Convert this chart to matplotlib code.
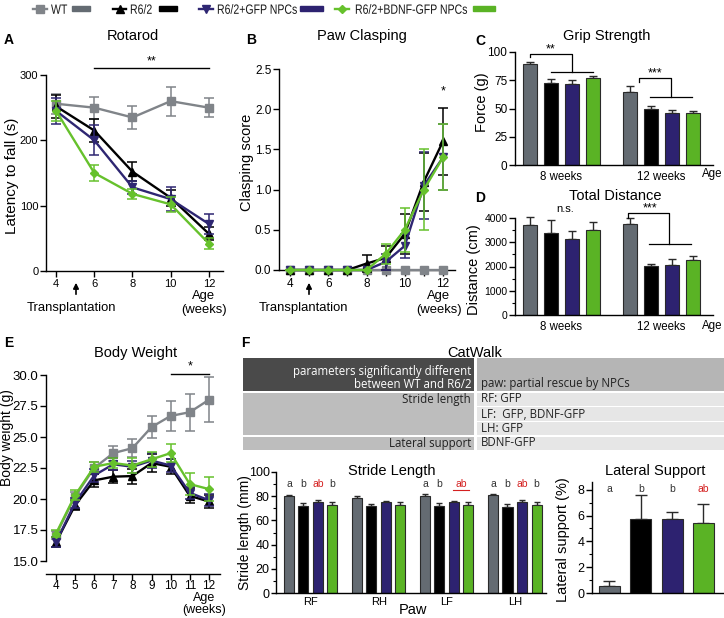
import numpy as np
import matplotlib
matplotlib.use('Agg')
import matplotlib.pyplot as plt
from matplotlib.patches import Rectangle, PathPatch
from matplotlib.ticker import MultipleLocator
from matplotlib.textpath import TextPath
from matplotlib.font_manager import FontProperties
from matplotlib.transforms import Affine2D

plt.rcParams['font.family'] = ['Liberation Sans', 'DejaVu Sans']

W, H = 724, 618

GROUPS = ['WT', 'R6/2', 'R6/2+GFP NPCs', 'R6/2+BDNF-GFP NPCs']
LINE_COLORS = ['#808489', '#000000', '#2e2672', '#66c12c']
BAR_COLORS = ['#646b72', '#000000', '#2d2270', '#5ab325']
MARKERS = ['s', '^', 'v', 'D']
MSIZES = [5.5, 5.5, 5.5, 4.5]

# A - rotarod
rot_weeks = [4, 6, 8, 10, 12]
rot_vals = [[256, 250, 235, 260, 250],
            [252, 215, 152, 112, 57],
            [245, 200, 128, 110, 72],
            [245, 150, 118, 102, 42]]
rot_errs = [[15, 17, 17, 22, 15],
            [18, 18, 15, 12, 10],
            [20, 23, 10, 18, 15],
            [15, 13, 8, 12, 8]]

# B - paw clasping
clasp_weeks = [4, 5, 6, 7, 8, 9, 10, 11, 12]
clasp_vals = [[0, 0, 0, 0, 0, 0, 0, 0, 0],
              [0, 0, 0, 0, 0.08, 0.15, 0.45, 1.1, 1.6],
              [0, 0, 0, 0, 0, 0.1, 0.3, 1.05, 1.4],
              [0, 0, 0, 0, 0, 0.2, 0.5, 1.0, 1.4]]
clasp_errs = [[0, 0, 0, 0, 0, 0, 0, 0, 0],
              [0, 0, 0, 0, 0.11, 0.15, 0.25, 0.36, 0.42],
              [0, 0, 0, 0, 0, 0.1, 0.15, 0.42, 0.41],
              [0, 0, 0, 0, 0, 0.12, 0.27, 0.5, 0.41]]

# C - grip strength
grip_8 = [89, 73, 72, 77]
grip_8_err = [2.5, 3, 3, 2]
grip_12 = [65, 49.5, 46, 46]
grip_12_err = [4.5, 2.5, 2.5, 1.5]

# D - total distance
dist_8 = [3700, 3400, 3150, 3500]
dist_8_err = [350, 500, 300, 350]
dist_12 = [3750, 2020, 2050, 2270]
dist_12_err = [250, 100, 250, 150]

# E - body weight
bw_weeks = [4, 5, 6, 7, 8, 9, 10, 11, 12]
bw_vals = [[17.1, 20.2, 22.5, 23.7, 24.1, 25.8, 26.7, 27.0, 28.0],
           [16.5, 19.5, 21.5, 21.8, 21.85, 22.9, 22.6, 20.25, 19.8],
           [16.5, 19.7, 21.9, 22.8, 22.6, 23.1, 22.7, 20.5, 19.9],
           [17.2, 20.3, 22.6, 22.9, 22.7, 23.2, 23.7, 21.2, 20.8]]
bw_errs = [[0.3, 0.4, 0.5, 0.6, 0.7, 0.9, 1.2, 1.5, 1.8],
           [0.4, 0.4, 0.5, 0.5, 0.6, 0.7, 0.6, 0.6, 0.5],
           [0.4, 0.4, 0.5, 0.5, 0.5, 0.6, 0.5, 0.5, 0.5],
           [0.3, 0.4, 0.4, 0.4, 0.6, 0.6, 0.7, 0.9, 1.0]]

# F - catwalk
paws = ['RF', 'RH', 'LF', 'LH']
stride_vals = [[80, 71.5, 75.5, 72.5],
               [78.5, 71.5, 75, 72.5],
               [80.5, 71.5, 75, 73],
               [81, 71, 75.5, 72.5]]
stride_errs = [[1, 2.5, 1.5, 2.5],
               [1.5, 2, 1.2, 2.5],
               [1.2, 2.5, 1, 2.5],
               [1.2, 2.5, 1, 2.5]]
stride_letters = [['a', 'b', 'ab', 'b'], None, ['a', 'b', 'ab', None], ['a', 'b', 'ab', 'b']]
lat_vals = [0.55, 5.7, 5.7, 5.45]
lat_errs = [0.35, 1.9, 0.6, 1.45]
lat_letters = ['a', 'b', 'b', 'ab']

TITLE = 10.5
LABEL = 10.5
NOTE = 9.4

fig = plt.figure(figsize=(W / 100, H / 100), dpi=100)


def px_axes(l, t, r, b):
    return fig.add_axes([l / W, 1 - b / H, (r - l) / W, (b - t) / H])


def ftext(x, y, s, **kw):
    fig.text(x / W, 1 - y / H, s, **kw)


def narrow_text(x, y_base, s, size_px=13.5, squeeze=0.78):
    # Arial Narrow look: squeeze Liberation Sans glyph outlines horizontally
    tp = TextPath((0, 0), s, size=size_px, prop=FontProperties(family='Liberation Sans'))
    tr = Affine2D().scale(squeeze, 1).translate(x, H - y_base)
    fig.add_artist(PathPatch(tp, transform=tr, facecolor='#1a1a1a', lw=0))


def style(ax, size=8):
    for s in ['top', 'right']:
        ax.spines[s].set_visible(False)
    for s in ['left', 'bottom']:
        ax.spines[s].set_linewidth(1)
    ax.tick_params(direction='out', length=4, width=1, labelsize=size, pad=1.5)
    ax.tick_params(which='minor', length=2.5, width=0.8)
    ax.patch.set_alpha(0)


def lines(ax, weeks, vals, errs):
    for i in range(4):
        ax.errorbar(weeks, vals[i], yerr=errs[i], color=LINE_COLORS[i], marker=MARKERS[i],
                    ms=MSIZES[i], lw=1.7, elinewidth=1.1, capsize=3.5, capthick=1.1,
                    clip_on=False, zorder=3 + i)


def bars(ax, centers, vals, errs, width, capsize=3):
    for i in range(4):
        ax.bar(centers[i], vals[i], width, color=BAR_COLORS[i], edgecolor='#2a2a2a', lw=0.8, zorder=2)
        ax.errorbar(centers[i], vals[i], yerr=[[0], [errs[i]]], color='#2a2a2a', lw=1,
                    capsize=capsize, capthick=1, clip_on=False, zorder=1)


# ---------- legend ----------
LEG_Y = 9
leg_x = [(33, 47, 51, 72, 90), (113, 126, 130, 159, 177),
         (199, 213, 217, 300, 323), (335, 349, 355, 473, 495)]
for i, (l0, l1, tx, rx0, rx1) in enumerate(leg_x):
    fig.add_artist(plt.Line2D([l0 / W, l1 / W], [1 - LEG_Y / H] * 2, color=LINE_COLORS[i], lw=1.7,
                              transform=fig.transFigure))
    fig.add_artist(plt.Line2D([(l0 + l1) / 2 / W], [1 - LEG_Y / H], color=LINE_COLORS[i],
                              marker=MARKERS[i], ms=MSIZES[i], transform=fig.transFigure))
    narrow_text(tx, 13.8, GROUPS[i])
    fig.add_artist(Rectangle((rx0 / W, 1 - 10.5 / H), (rx1 - rx0) / W, 5 / H, color=BAR_COLORS[i],
                             transform=fig.transFigure))

# ---------- A: rotarod ----------
axA = px_axes(46, 75, 223, 271)
style(axA, 8)
lines(axA, rot_weeks, rot_vals, rot_errs)
axA.set_xlim(3.47, 12.74)
axA.set_ylim(0, 300)
axA.set_xticks(rot_weeks)
axA.set_yticks([0, 100, 200, 300])
axA.plot([6, 12], [310, 310], color='k', lw=1, clip_on=False)
axA.text(9, 312, '**', ha='center', va='bottom', fontsize=9)
ftext(133, 36, 'Rotarod', fontsize=TITLE, ha='center', va='center')
ftext(12, 176, 'Latency to fall (s)', rotation=90, fontsize=11, ha='center', va='center')
ftext(9, 40, 'A', fontsize=10, fontweight='bold', ha='center', va='center')
axA.annotate('', xy=(76 / W, 1 - 280 / H), xytext=(76 / W, 1 - 297 / H), xycoords='figure fraction',
             arrowprops=dict(arrowstyle='-|>', color='k', lw=1.2, mutation_scale=8))
ftext(71, 308, 'Transplantation', fontsize=NOTE, ha='center', va='center')
ftext(204, 296, 'Age', fontsize=NOTE, ha='center', va='center')
ftext(204, 310, '(weeks)', fontsize=NOTE, ha='center', va='center')

# ---------- B: paw clasping ----------
axB = px_axes(279, 69, 455, 270)
style(axB, 8.5)
lines(axB, clasp_weeks, clasp_vals, clasp_errs)
axB.set_xlim(3.42, 12.63)
axB.set_ylim(0, 2.5)
axB.set_xticks(clasp_weeks)
axB.set_xticklabels([str(w) if w % 2 == 0 else '' for w in clasp_weeks])
axB.set_yticks(np.arange(0, 2.51, 0.5))
axB.set_yticklabels(['%.1f' % v for v in np.arange(0, 2.51, 0.5)])
axB.text(12, 2.15, '*', ha='center', va='bottom', fontsize=9)
ftext(362, 36, 'Paw Clasping', fontsize=TITLE, ha='center', va='center')
ftext(247, 162, 'Clasping score', rotation=90, fontsize=LABEL, ha='center', va='center')
ftext(251, 40, 'B', fontsize=10, fontweight='bold', ha='center', va='center')
axB.annotate('', xy=(309 / W, 1 - 280 / H), xytext=(309 / W, 1 - 297 / H), xycoords='figure fraction',
             arrowprops=dict(arrowstyle='-|>', color='k', lw=1.2, mutation_scale=8))
ftext(303, 308, 'Transplantation', fontsize=NOTE, ha='center', va='center')
ftext(439, 296, 'Age', fontsize=NOTE, ha='center', va='center')
ftext(439, 310, '(weeks)', fontsize=NOTE, ha='center', va='center')

# ---------- C: grip strength ----------
offs = [0, 20.5, 42, 63]
c8 = [530 + o for o in offs]
c12 = [630 + o for o in offs]
axC = px_axes(515, 52, 713, 165)
style(axC, 8.5)
bars(axC, c8, grip_8, grip_8_err, 14)
bars(axC, c12, grip_12, grip_12_err, 14)
axC.set_xlim(515, 713)
axC.set_ylim(0, 100)
axC.set_yticks([0, 25, 50, 75, 100])
axC.set_xticks([np.mean(c8), np.mean(c12)])
axC.set_xticklabels(['8 weeks', '12 weeks'], fontsize=8.3)
axC.tick_params(axis='x', length=0, pad=4)
axC.plot([530, 530, 572, 572], [95.6, 98.2, 98.2, 82.3], color='k', lw=0.9, clip_on=False)
axC.plot([551, 593], [82.3, 82.3], color='k', lw=0.9, clip_on=False)
axC.text(551, 97, '**', ha='center', va='bottom', fontsize=9)
axC.plot([639, 639, 671, 671], [73.5, 77, 77, 60.2], color='k', lw=0.9, clip_on=False)
axC.plot([650, 692], [60.2, 60.2], color='k', lw=0.9, clip_on=False)
axC.text(655, 76, '***', ha='center', va='bottom', fontsize=9)
ftext(702, 174, 'Age', fontsize=8.3, ha='left', va='center')
ftext(607, 36, 'Grip Strength', fontsize=TITLE, ha='center', va='center')
ftext(482, 102, 'Force (g)', rotation=90, fontsize=LABEL, ha='center', va='center')
ftext(480, 41, 'C', fontsize=10, fontweight='bold', ha='center', va='center')

# ---------- D: total distance ----------
axD = px_axes(515, 218, 713, 315)
style(axD, 7.5)
bars(axD, c8, dist_8, dist_8_err, 14)
bars(axD, c12, dist_12, dist_12_err, 14)
axD.set_xlim(515, 713)
axD.set_ylim(0, 4000)
axD.set_yticks(range(0, 4001, 1000))
axD.yaxis.set_minor_locator(MultipleLocator(500))
axD.set_xticks([np.mean(c8), np.mean(c12)])
axD.set_xticklabels(['8 weeks', '12 weeks'], fontsize=8.3)
axD.tick_params(axis='x', length=0, pad=4)
axD.text(565, 4150, 'n.s.', ha='center', va='bottom', fontsize=8)
axD.plot([628, 628, 669, 669], [4000, 4206, 4206, 2928], color='k', lw=0.9, clip_on=False)
axD.plot([649, 691], [2928, 2928], color='k', lw=0.9, clip_on=False)
axD.text(650, 4150, '***', ha='center', va='bottom', fontsize=9)
ftext(702, 326, 'Age', fontsize=8.3, ha='left', va='center')
ftext(615, 196, 'Total Distance', fontsize=TITLE, ha='center', va='center')
ftext(474, 270, 'Distance (cm)', rotation=90, fontsize=LABEL, ha='center', va='center')
ftext(480, 198, 'D', fontsize=10, fontweight='bold', ha='center', va='center')

# ---------- E: body weight ----------
axE = px_axes(46, 375, 220, 561)
style(axE, 8.5)
axE.tick_params(axis='y', labelsize=9.5)
axE.tick_params(axis='x', pad=1)
axE.spines['bottom'].set_position(('outward', 9))
lines(axE, bw_weeks, bw_vals, bw_errs)
axE.set_xlim(3.48, 12.58)
axE.set_ylim(15, 30)
axE.set_xticks(bw_weeks)
axE.set_yticks(np.arange(15, 30.1, 2.5))
axE.set_yticklabels(['%.1f' % v for v in np.arange(15, 30.1, 2.5)])
axE.plot([10, 12], [30.1, 30.1], color='k', lw=1, clip_on=False)
axE.text(11, 30.2, '*', ha='center', va='bottom', fontsize=9)
ftext(136, 353, 'Body Weight', fontsize=TITLE, ha='center', va='center')
ftext(7, 438, 'Body weight (g)', rotation=90, fontsize=10, ha='center', va='center')
ftext(9, 343, 'E', fontsize=10, fontweight='bold', ha='center', va='center')
ftext(204, 598, 'Age', fontsize=9, ha='center', va='center')
ftext(204, 610.5, '(weeks)', fontsize=9, ha='center', va='center')

# ---------- F: catwalk table ----------
ftext(245, 343, 'F', fontsize=10, fontweight='bold', ha='center', va='center')
ftext(475, 353, 'CatWalk', fontsize=TITLE, ha='center', va='center')
axT = px_axes(243, 358, 724, 450)
axT.set_xlim(243, 724)
axT.set_ylim(450, 358)
axT.axis('off')
cells = [(243, 358, 474, 391, '#4a4a4a'), (477, 358, 724, 391, '#b5b5b5'),
         (243, 393, 474, 435, '#bdbdbd'), (477, 393, 724, 405.5, '#e6e6e6'),
         (477, 407, 724, 420.5, '#e6e6e6'), (477, 422, 724, 435, '#e6e6e6'),
         (243, 437, 474, 450, '#bdbdbd'), (477, 437, 724, 450, '#e6e6e6')]
for x0, y0, x1, y1, c in cells:
    axT.add_patch(Rectangle((x0, y0), x1 - x0, y1 - y0, color=c, lw=0))
tfont = dict(fontsize=8.3, family=['Open Sans', 'DejaVu Sans'], va='center')
axT.text(471, 371, 'parameters significantly different', color='white', ha='right', **tfont)
axT.text(471, 384, 'between WT and R6/2', color='white', ha='right', **tfont)
axT.text(481, 384, 'paw: partial rescue by NPCs', color='#222222', ha='left', **tfont)
axT.text(471, 399, 'Stride length', color='#222222', ha='right', **tfont)
axT.text(481, 399, 'RF: GFP', color='#222222', ha='left', **tfont)
axT.text(481, 414, 'LF:  GFP, BDNF-GFP', color='#222222', ha='left', **tfont)
axT.text(481, 428, 'LH: GFP', color='#222222', ha='left', **tfont)
axT.text(471, 443, 'Lateral support', color='#222222', ha='right', **tfont)
axT.text(481, 443, 'BDNF-GFP', color='#222222', ha='left', **tfont)

# ---------- F: stride length ----------
axS = px_axes(276, 472, 546, 593)
style(axS, 9)
axS.tick_params(axis='y', length=3.5, pad=1)
for g in range(4):
    cs = [289 + j * 14.5 + g * 68 for j in range(4)]
    bars(axS, cs, stride_vals[g], stride_errs[g], 10, capsize=2.5)
    labs = stride_letters[g]
    if labs is None:
        continue
    for j, lab in enumerate(labs):
        if lab is None:
            continue
        col = '#d42020' if lab == 'ab' else '#333333'
        x = cs[j]
        if g == 2 and lab == 'ab':
            x = (cs[2] + cs[3]) / 2
            axS.plot([cs[2] - 1, cs[3] + 1], [85.3, 85.3], color=col, lw=0.8, clip_on=False)
        axS.text(x, 86, lab, ha='center', va='bottom', fontsize=7.5, color=col)
axS.set_xlim(276, 546)
axS.set_ylim(0, 100)
axS.set_yticks(range(0, 101, 20))
axS.yaxis.set_minor_locator(MultipleLocator(10))
axS.set_xticks([289 + 21.75 + g * 68 for g in range(4)])
axS.set_xticklabels(paws, fontsize=8)
axS.tick_params(axis='x', length=0, pad=3)
ftext(413, 610, 'Paw', fontsize=LABEL, ha='center', va='center')
ftext(392, 471, 'Stride Length', fontsize=TITLE, ha='center', va='center')
ftext(245, 533, 'Stride length (mm)', rotation=90, fontsize=10, ha='center', va='center')

# ---------- F: lateral support ----------
axL = px_axes(592, 482, 724, 593)
style(axL, 9)
lc = [609.5 + j * 31.3 for j in range(4)]
bars(axL, lc, lat_vals, lat_errs, 21, capsize=4)
for j, lab in enumerate(lat_letters):
    col = '#d42020' if lab == 'ab' else '#333333'
    axL.text(lc[j], 7.7, lab, ha='center', va='bottom', fontsize=7.5, color=col)
axL.set_xlim(592, 724)
axL.set_ylim(0, 8.6)
axL.set_yticks(range(0, 9, 2))
axL.yaxis.set_minor_locator(MultipleLocator(1))
axL.set_xticks([])
ftext(655, 471, 'Lateral Support', fontsize=TITLE, ha='center', va='center')
ftext(563, 540, 'Lateral support (%)', rotation=90, fontsize=LABEL, ha='center', va='center')

fig.savefig('out.png', dpi=100)
